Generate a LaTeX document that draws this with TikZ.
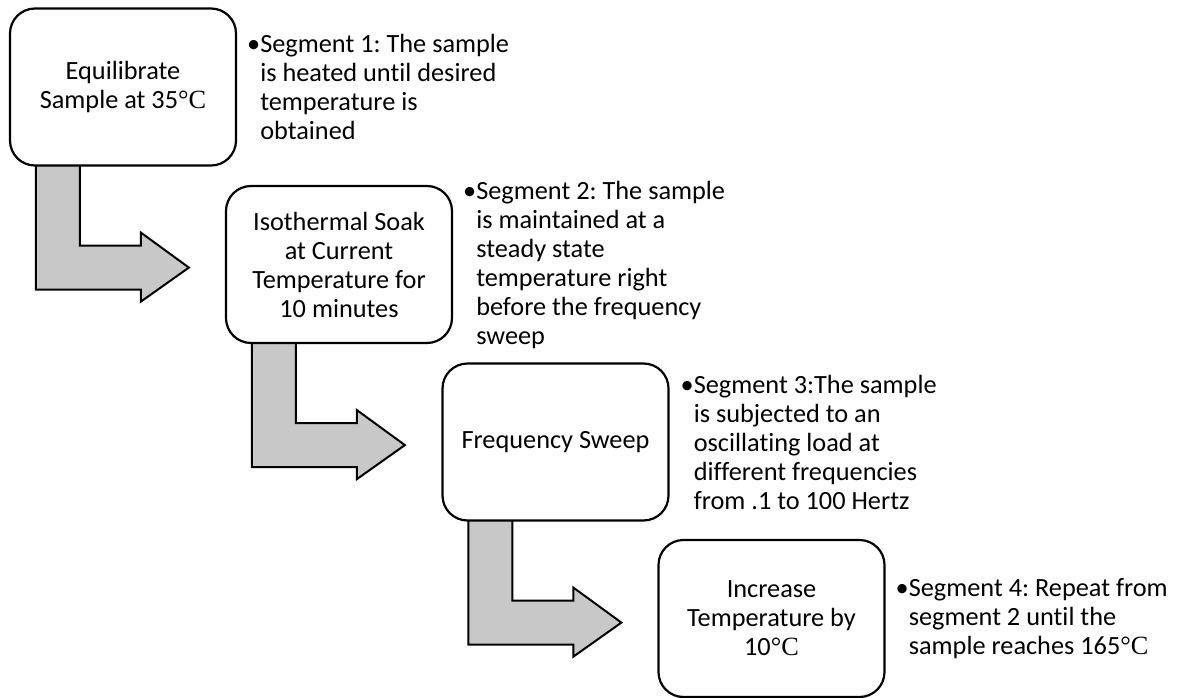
\documentclass[tikz,border=0pt]{standalone}
\usepackage{fontspec}
\setmainfont{Carlito}[RawFeature={-liga;-clig;-dlig}]
\newfontfamily\degfont{Liberation Serif}
\usetikzlibrary{backgrounds}
\newcommand{\degC}{{\degfont °C}}
\definecolor{arrowgray}{RGB}{200,200,200}
\frenchspacing
\tikzset{
  stepbox/.style={draw=black, line width=2.2pt, fill=white, rounded corners=25pt,
    minimum width=226pt, minimum height=157pt, inner sep=0pt, align=center,
    font=\fontsize{26.3}{29}\selectfont\frenchspacing},
  seglabel/.style={anchor=west, inner sep=0pt, align=left,
    font=\fontsize{26.3}{29}\selectfont\frenchspacing},
  blockarrow/.style={draw=black, line width=2pt, fill=arrowgray, line join=miter}
}
\newcommand{\bul}{\llap{•}}
\begin{document}
\begin{tikzpicture}[x=1pt,y=-1pt]
\useasboundingbox (0,0) rectangle (1181,698);
% boxes
\node[stepbox] (b1) at (123,87) {Equilibrate\\Sample at 35\degC};
\node[stepbox] (b2) at (339,264.5) {Isothermal Soak\\at Current\\Temperature for\\10 minutes};
\node[stepbox] (b3) at (555.5,442) {Frequency Sweep};
\node[stepbox] (b4) at (771.5,618.5) {Increase\\Temperature by\\10\degC};
% segment descriptions
\node[seglabel] (s1) at ([xshift=23pt]b1.east) {\bul Segment 1: The sample\\is heated until desired\\temperature is\\obtained};
\node[seglabel] (s2) at ([xshift=23pt]b2.east) {\bul Segment 2: The sample\\is maintained at a\\steady state\\temperature right\\before the frequency\\sweep};
\node[seglabel] (s3) at ([xshift=24pt]b3.east) {\bul Segment 3:The sample\\is subjected to an\\oscillating load at\\different frequencies\\from .1 to 100 Hertz};
\node[seglabel] (s4) at ([xshift=23pt]b4.east) {\bul Segment 4: Repeat from\\segment 2 until the\\sample reaches 165\degC};
% block arrows
\begin{scope}[on background layer]
\foreach \b in {b1,b2,b3}{
  \draw[blockarrow, shift={(\b.south west)}]
    (27,-10) -- (27,123) -- (132,123) -- (132,135) -- (180,101)
    -- (132,66) -- (132,79) -- (71,79) -- (71,-10) -- cycle;
}
\end{scope}
\end{tikzpicture}
\end{document}
